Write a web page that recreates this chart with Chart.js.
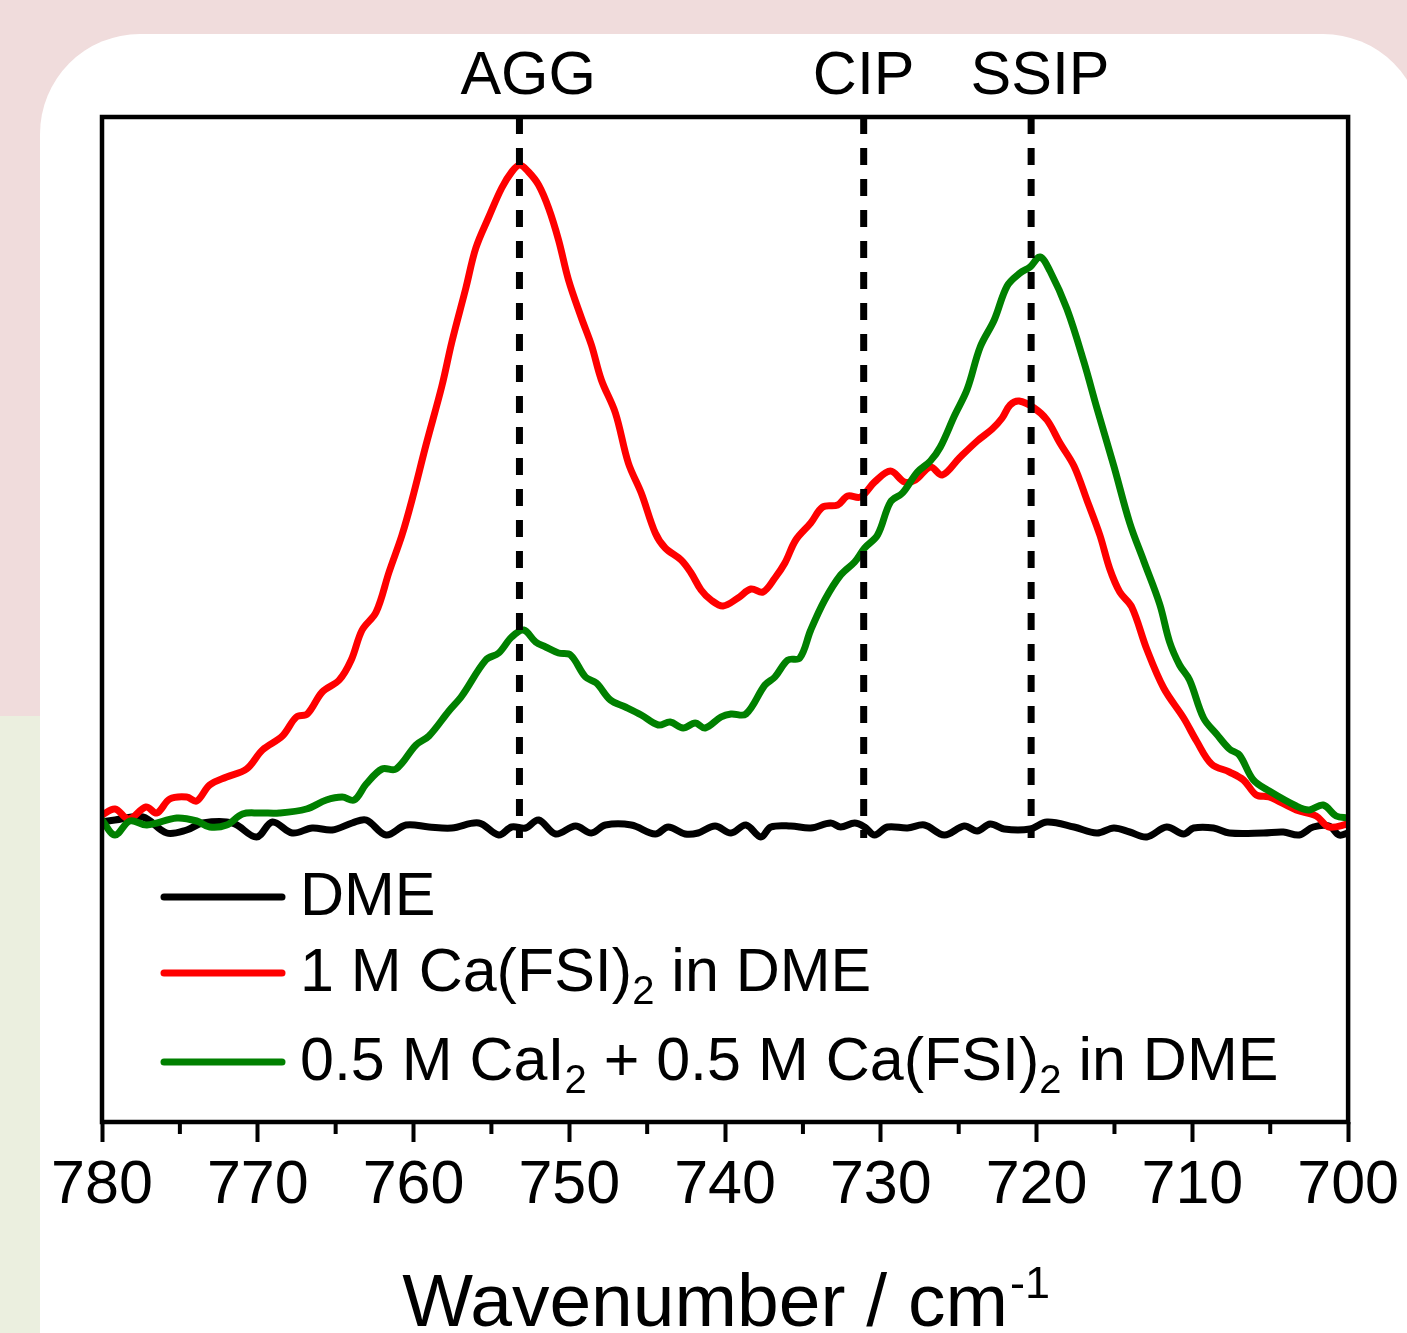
<!DOCTYPE html>
<html><head><meta charset="utf-8">
<script src="https://cdn.jsdelivr.net/npm/chart.js@4/dist/chart.umd.min.js"></script>
<style>html,body{margin:0;padding:0;background:#fff;}canvas{display:block;}</style>
</head><body>
<canvas id="c" width="1407" height="1333"></canvas>
<script>
// ---- data (wavenumber in cm^-1, intensity in arbitrary units) ----
const dmeX = [780.00,779.17,777.38,775.84,774.56,773.54,771.62,770.08,769.06,767.78,766.50,765.22,763.94,763.04,761.76,760.48,759.01,757.54,755.81,754.53,753.70,752.80,751.97,750.88,749.60,748.58,747.68,746.02,744.48,743.65,742.56,741.73,740.64,739.62,738.66,737.70,737.06,735.78,734.50,733.22,732.58,731.68,731.04,730.40,729.57,728.29,727.20,725.92,724.64,723.81,722.98,722.08,720.42,719.33,717.60,716.13,715.04,714.02,712.93,711.65,710.56,709.92,708.64,707.62,705.44,704.16,703.14,702.24,701.22,700.58,700.00];
const dmeY = [30.0,30.2,30.5,28.9,29.2,29.9,29.9,28.5,30.0,28.9,29.4,29.2,29.9,30.2,28.7,29.7,29.5,29.4,29.9,28.7,29.5,29.4,30.2,28.8,29.6,28.9,29.7,29.7,28.8,29.5,28.8,28.9,29.6,28.9,29.7,28.5,29.5,29.6,29.4,29.9,29.5,29.9,29.5,28.7,29.5,29.4,29.7,28.7,29.6,29.1,29.8,29.3,29.3,30.0,29.5,28.9,29.4,29.0,28.5,29.5,28.8,29.4,29.4,28.9,28.9,29.0,28.7,29.5,29.6,28.7,28.9];

const caFsiX = [780.00,779.17,778.27,777.18,776.48,775.65,774.56,773.92,773.09,772.00,770.72,769.70,768.42,767.52,766.82,765.86,764.77,764.00,763.30,762.40,761.57,760.74,760.10,759.20,758.18,757.54,756.64,756.00,755.17,754.34,753.70,753.18,752.61,751.97,751.33,750.69,750.05,749.22,748.58,747.94,747.04,746.21,745.38,744.48,743.84,742.82,742.18,741.54,740.90,740.13,739.17,738.34,737.57,736.80,736.16,735.46,734.50,733.73,732.77,732.13,731.30,730.40,729.38,728.48,727.78,726.82,726.05,724.96,723.81,722.85,722.21,721.70,721.12,720.16,719.33,718.50,717.60,716.77,715.94,715.30,714.66,713.89,712.93,711.84,710.56,709.73,708.77,707.62,706.72,705.89,705.06,703.33,702.05,701.22,700.00];
const caFsiY = [30.7,31.3,30.3,31.5,30.9,32.3,32.5,32.1,33.7,34.5,35.3,37.2,38.6,40.5,40.8,43.0,44.2,46.2,49.2,51.0,55.0,58.7,62.2,67.7,73.6,78.0,83.4,87.4,90.5,93.4,95.0,95.7,95.0,93.7,91.4,88.2,84.2,80.4,77.7,74.2,70.9,65.9,62.9,58.9,57.4,56.2,54.9,53.2,52.2,51.6,52.4,53.3,53.0,54.4,55.9,58.2,59.9,61.5,61.7,62.6,62.5,64.0,65.1,64.0,64.2,65.5,64.7,66.4,68.1,69.3,70.4,71.7,72.1,71.4,70.2,67.9,65.6,62.2,58.7,55.3,53.0,51.5,47.3,43.4,40.4,38.1,35.8,35.0,34.2,32.7,32.5,31.2,30.6,29.5,29.8];

const mixX = [780.00,779.17,778.21,777.12,775.20,773.92,773.09,772.00,770.98,769.89,768.61,766.88,765.60,764.58,763.81,763.04,762.02,761.12,759.84,759.01,757.73,756.90,755.36,754.53,753.70,752.93,752.16,751.52,750.69,749.92,748.96,748.26,747.36,746.40,745.38,744.29,743.52,742.69,741.92,741.28,740.26,739.62,738.66,737.44,736.80,735.97,735.20,734.50,733.60,732.58,731.68,731.04,730.21,729.38,728.61,727.65,726.82,726.18,725.28,724.45,723.62,722.72,721.89,721.06,720.42,719.78,719.14,718.05,716.96,716.13,715.04,714.02,713.12,712.10,711.46,710.82,710.18,709.28,708.45,707.62,706.98,706.08,705.06,703.33,702.50,701.60,700.77,700.00];
const mixY = [30.2,28.7,30.1,29.7,30.4,30.1,29.5,29.7,30.8,30.9,30.9,31.3,32.2,32.5,32.2,33.8,35.3,35.3,37.7,38.6,41.1,42.6,46.2,46.9,48.5,49.2,48.0,47.5,46.9,46.7,44.5,43.9,42.2,41.5,40.7,39.7,40.0,39.4,39.9,39.4,40.5,40.8,40.8,43.7,44.5,46.2,46.4,49.2,52.2,54.7,56.0,57.4,58.7,62.0,62.9,65.0,66.1,67.5,70.6,73.3,77.5,80.2,83.6,84.9,85.5,86.5,85.1,81.3,76.0,71.4,65.6,59.9,56.1,51.8,48.0,45.7,44.2,40.4,38.8,37.3,36.7,34.2,33.1,31.6,31.2,31.7,30.6,30.4];

const seriesLabels = ['DME', '1 M Ca(FSI)_2 in DME', '0.5 M CaI_2 + 0.5 M Ca(FSI)_2 in DME'];
const markerNames = ['AGG', 'CIP', 'SSIP'];
const markerPos = [753.2, 731.1, 720.35];
const markerLabelPos = [752.64, 731.1, 719.78];
const markerBottom = 28.4;
const xMin = 700, xMax = 780, yMin = 0, yMax = 100.5;
const majorStep = 10;
const minorTicks = [775, 765, 755, 745, 735, 725, 715, 705];
const axisTitle = 'Wavenumber / cm';
const axisTitleSup = '-1';

// ---- drawing ----
const FONT = '"Liberation Sans", Arial, Helvetica, sans-serif';
const colors = ['#000000', '#ff0000', '#008000'];

function pts(xs, ys) { return xs.map((x, i) => ({x: x, y: ys[i]})); }

const datasets = [
  {label: seriesLabels[0], data: pts(dmeX, dmeY), borderColor: colors[0], order: 3},
  {label: seriesLabels[1], data: pts(caFsiX, caFsiY), borderColor: colors[1], order: 2},
  {label: seriesLabels[2], data: pts(mixX, mixY), borderColor: colors[2], order: 1}
].map(d => Object.assign(d, {borderWidth: 7, pointRadius: 0, tension: 0.35, fill: false, borderCapStyle: 'round', borderJoinStyle: 'round'}));

markerPos.forEach((p, i) => {
  datasets.push({label: 'marker_' + markerNames[i], data: [{x: p, y: yMax}, {x: p, y: markerBottom}],
    borderColor: '#000', borderWidth: 7, borderDash: [17, 14], pointRadius: 0, tension: 0, order: 0, borderCapStyle: 'butt'});
});

function drawRich(ctx, str, x, y, size, subSize, subDrop) {
  const parts = str.split(/_(\d)/);
  let cx = x;
  parts.forEach((p, i) => {
    if (!p) return;
    if (i % 2 === 1) {
      ctx.font = subSize + 'px ' + FONT;
      ctx.fillText(p, cx, y + subDrop);
    } else {
      ctx.font = size + 'px ' + FONT;
      ctx.fillText(p, cx, y);
    }
    cx += ctx.measureText(p).width;
  });
}

const decor = {
  id: 'decor',
  beforeDraw(chart) {
    const ctx = chart.ctx, W = chart.width, H = chart.height;
    ctx.save();
    ctx.fillStyle = '#f0dcdc'; ctx.fillRect(0, 0, W, 716);
    ctx.fillStyle = '#ebefdf'; ctx.fillRect(0, 716, W, H - 716);
    ctx.fillStyle = '#ffffff';
    ctx.beginPath(); ctx.roundRect(40, 34, 1383, 1450, 100); ctx.fill();
    ctx.restore();
  },
  afterDraw(chart) {
    const ctx = chart.ctx, a = chart.chartArea, x = chart.scales.x;
    ctx.save();
    // frame
    ctx.strokeStyle = '#000'; ctx.lineWidth = 4.5;
    ctx.strokeRect(a.left, a.top, a.right - a.left, a.bottom - a.top);
    // minor ticks
    ctx.lineWidth = 4;
    ctx.beginPath();
    minorTicks.forEach(v => { const px = x.getPixelForValue(v); ctx.moveTo(px, a.bottom); ctx.lineTo(px, a.bottom + 12); });
    ctx.stroke();
    // marker labels
    ctx.fillStyle = '#000'; ctx.textAlign = 'center'; ctx.textBaseline = 'alphabetic';
    ctx.font = '61px ' + FONT;
    markerNames.forEach((n, i) => ctx.fillText(n, x.getPixelForValue(markerLabelPos[i]), a.top - 23));
    // legend
    const lineYs = [897, 973, 1062];
    ctx.textAlign = 'left';
    chart.data.datasets.slice(0, 3).forEach((d, i) => {
      const ly = lineYs[i];
      ctx.strokeStyle = d.borderColor; ctx.lineWidth = 7; ctx.lineCap = 'round';
      ctx.beginPath(); ctx.moveTo(a.left + 62, ly); ctx.lineTo(a.left + 180, ly); ctx.stroke();
      ctx.fillStyle = '#000';
      drawRich(ctx, d.label, a.left + 198, ly + 18, 61, 40, 13);
    });
    // axis title
    ctx.font = '75px ' + FONT;
    const w1 = ctx.measureText(axisTitle).width;
    ctx.font = '45px ' + FONT;
    const w2 = ctx.measureText(axisTitleSup).width;
    const sx = (a.left + a.right) / 2 - (w1 + w2) / 2;
    ctx.font = '75px ' + FONT; ctx.fillText(axisTitle, sx, 1326);
    ctx.font = '45px ' + FONT; ctx.fillText(axisTitleSup, sx + w1 + 2, 1298);
    ctx.restore();
  }
};

new Chart(document.getElementById('c'), {
  type: 'line',
  data: {datasets: datasets},
  plugins: [decor],
  options: {
    responsive: false, animation: false, devicePixelRatio: 1,
    layout: {autoPadding: false, padding: {left: 102, right: 55, top: 117, bottom: 0}},
    plugins: {legend: {display: false}, tooltip: {enabled: false}},
    scales: {
      x: {
        type: 'linear', reverse: true, min: xMin, max: xMax,
        afterFit(s) { s.height = 211; },
        border: {display: false},
        grid: {drawOnChartArea: false, drawTicks: true, tickLength: 20, tickWidth: 4, tickColor: '#000'},
        ticks: {stepSize: majorStep, autoSkip: false, maxRotation: 0, color: '#000', padding: 8,
          font: {family: FONT, size: 61}},
        title: {display: false}
      },
      y: {type: 'linear', min: yMin, max: yMax, display: false}
    }
  }
});
</script>
</body></html>
